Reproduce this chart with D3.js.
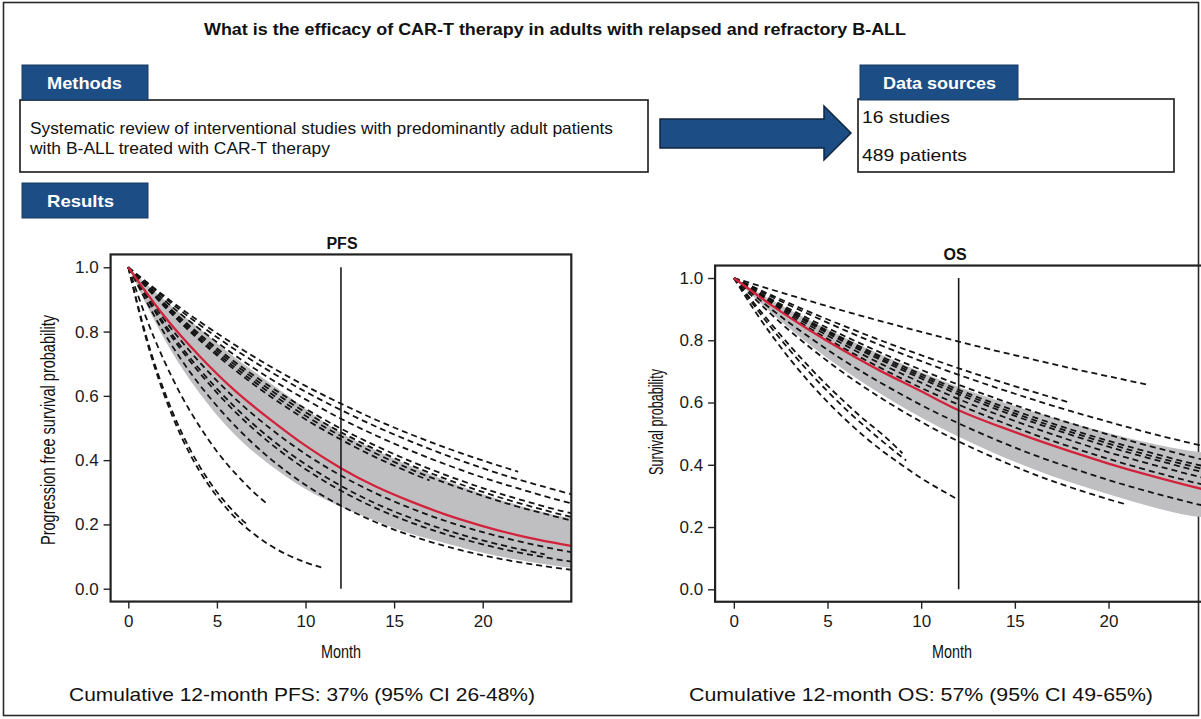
<!DOCTYPE html>
<html>
<head>
<meta charset="utf-8">
<script src="https://cdn.jsdelivr.net/npm/d3@7"></script>
<style>
  html, body { margin: 0; padding: 0; background: #fff; }
  svg { display: block; font-family: "Liberation Sans", Arial, Helvetica, sans-serif; }
</style>
</head>
<body>
<svg id="fig" width="1201" height="719"></svg>
<script>
// ---- text content ----
const titleText = "What is the efficacy of CAR-T therapy in adults with relapsed and refractory B-ALL";
const methodsLines = ["Systematic review of interventional studies with predominantly adult patients",
                      "with B-ALL treated with CAR-T therapy"];
const sourceLines = ["16 studies", "489 patients"];
const tabLabels = ["Methods", "Data sources", "Results"];
const panelTitles = ["PFS", "OS"];
const yAxisTitles = ["Progression free survival probability", "Survival probability"];
const xAxisTitle = "Month";
const captions = ["Cumulative 12-month PFS: 37% (95% CI 26-48%)",
                  "Cumulative 12-month OS: 57% (95% CI 49-65%)"];
const xTicks = [0, 5, 10, 15, 20];
const yTicks = [0, 0.2, 0.4, 0.6, 0.8, 1.0];
const landmarkMonth = 12;

// ---- pooled estimate and 95% band, by month ----
const bandMonths = [0, 2, 4, 6, 8, 10, 12, 14, 16, 18, 20, 22, 24, 25];
const pfsPooled  = [1, 0.85, 0.725, 0.617, 0.527, 0.445, 0.375, 0.317, 0.27, 0.229, 0.195, 0.166, 0.143, 0.133];
const pfsUpper   = [1, 0.90, 0.81, 0.72, 0.64, 0.56, 0.485, 0.43, 0.38, 0.335, 0.295, 0.26, 0.23, 0.22];
const pfsLower   = [1, 0.78, 0.61, 0.48, 0.385, 0.31, 0.255, 0.21, 0.17, 0.14, 0.112, 0.09, 0.072, 0.065];
const osPooled   = [1, 0.913, 0.834, 0.762, 0.696, 0.636, 0.575, 0.527, 0.483, 0.442, 0.404, 0.369, 0.337, 0.322];
const osUpper    = [1, 0.93, 0.866, 0.806, 0.75, 0.698, 0.65, 0.608, 0.57, 0.535, 0.502, 0.472, 0.448, 0.44];
const osLower    = [1, 0.888, 0.788, 0.70, 0.622, 0.552, 0.49, 0.435, 0.386, 0.343, 0.305, 0.27, 0.24, 0.232];

// ---- individual study curves: [month, probability] ----
const pfsStudies = [
  [[0,1],[2,0.912],[4,0.832],[6,0.759],[8,0.692],[10,0.631],[12,0.576],[14,0.525],[16,0.479],[18,0.437],[20,0.399],[22,0.364]],
  [[0,1],[2,0.907],[4,0.822],[6,0.745],[8,0.676],[10,0.613],[12,0.556],[14,0.504],[16,0.457],[18,0.414],[20,0.375],[22,0.340],[24,0.309],[25,0.294]],
  [[0,1],[2,0.899],[4,0.809],[6,0.727],[8,0.654],[10,0.589],[12,0.529],[14,0.476],[16,0.428],[18,0.385],[20,0.346],[22,0.312],[24,0.280],[25,0.266]],
  [[0,1],[2,0.890],[4,0.793],[6,0.706],[8,0.629],[10,0.560],[12,0.498],[14,0.444],[16,0.395],[18,0.352],[20,0.313],[22,0.279],[24,0.248],[25,0.235]],
  [[0,1],[2,0.887],[4,0.787],[6,0.698],[8,0.619],[10,0.549],[12,0.487],[14,0.432],[16,0.383],[18,0.340],[20,0.301],[22,0.267],[24,0.237],[25,0.223]],
  [[0,1],[2,0.883],[4,0.780],[6,0.689],[8,0.609],[10,0.538],[12,0.475],[14,0.420],[16,0.370],[18,0.327],[20,0.289],[22,0.255],[24,0.226],[25,0.212]],
  [[0,1],[2,0.880],[4,0.774],[6,0.681],[8,0.599],[10,0.527],[12,0.464],[14,0.408],[16,0.359],[17,0.337]],
  [[0,1],[2,0.840],[4,0.706],[6,0.593],[8,0.499],[10,0.419],[12,0.352],[14,0.296],[16,0.249],[18,0.209],[20,0.176],[22,0.148],[24,0.124],[25,0.114]],
  [[0,1],[2,0.827],[4,0.684],[6,0.566],[8,0.468],[10,0.387],[12,0.320],[14,0.264],[16,0.219],[18,0.181],[20,0.150],[22,0.124],[23.5,0.107]],
  [[0,1],[2,0.820],[4,0.673],[6,0.552],[8,0.453],[10,0.372],[12,0.305],[14,0.250],[16,0.205],[18,0.168],[20,0.138],[22,0.113],[24,0.093],[25,0.084]],
  [[0,1],[2,0.798],[4,0.636],[6,0.508],[8,0.405],[10,0.323],[12,0.258],[14,0.206],[16,0.164],[18,0.131],[20,0.104],[22,0.083],[24,0.066],[25,0.059]],
  [[0,1],[1,0.844],[2,0.712],[3,0.600],[4,0.507],[5,0.427],[6,0.361],[7,0.304],[7.9,0.261]],
  [[0,1],[1,0.787],[2,0.619],[3,0.487],[4,0.383],[5,0.301],[6,0.237],[6.7,0.200]],
  [[0,1],[1,0.779],[2,0.607],[3,0.472],[4,0.368],[5,0.287],[6,0.223],[7,0.174],[8,0.135],[9,0.105],[10,0.082],[10.9,0.066]]
];
const osStudies = [
  [[0,1],[2,0.963],[4,0.927],[6,0.892],[8,0.859],[10,0.827],[12,0.796],[14,0.766],[16,0.738],[18,0.710],[20,0.684],[22,0.658]],
  [[0,1],[2,0.945],[4,0.892],[6,0.843],[8,0.796],[10,0.752],[12,0.710],[14,0.671],[16,0.634],[17.8,0.602]],
  [[0,1],[2,0.940],[4,0.884],[6,0.830],[8,0.780],[10,0.733],[12,0.689],[14,0.648],[16,0.609],[18,0.572],[20,0.538],[22,0.505],[24,0.475],[25,0.461]],
  [[0,1],[2,0.932],[4,0.869],[6,0.811],[8,0.756],[10,0.705],[12,0.657],[14,0.613],[16,0.571],[18,0.533],[20,0.497],[22,0.463],[24,0.432],[25,0.417]],
  [[0,1],[2,0.929],[4,0.862],[6,0.801],[8,0.744],[10,0.691],[12,0.641],[14,0.595],[16,0.553],[18,0.513],[20,0.477],[22,0.443],[24,0.411],[25,0.397]],
  [[0,1],[2,0.927],[4,0.859],[6,0.796],[8,0.738],[10,0.684],[12,0.634],[14,0.587],[16,0.544],[18,0.505],[20,0.468],[22,0.433],[24,0.402],[25,0.387]],
  [[0,1],[2,0.925],[4,0.856],[6,0.791],[8,0.732],[10,0.677],[12,0.626],[14,0.579],[16,0.536],[18,0.496],[20,0.458],[22,0.424],[24,0.392],[25,0.377]],
  [[0,1],[2,0.921],[4,0.849],[6,0.782],[8,0.720],[10,0.664],[12,0.611],[14,0.563],[16,0.519],[18,0.478],[20,0.440],[22,0.406],[24,0.374],[25,0.359]],
  [[0,1],[2,0.917],[4,0.840],[6,0.770],[8,0.706],[10,0.647],[12,0.593],[14,0.544],[16,0.498],[18,0.457],[20,0.419],[22,0.384],[24,0.352],[25,0.337]],
  [[0,1],[2,0.900],[4,0.811],[6,0.730],[8,0.658],[10,0.592],[12,0.533],[14,0.480],[16,0.432],[18,0.390],[20,0.351],[22,0.316],[24,0.284],[25,0.270]],
  [[0,1],[2,0.883],[4,0.780],[6,0.689],[8,0.609],[10,0.538],[12,0.475],[14,0.420],[16,0.370],[18,0.327],[20,0.289],[21,0.272]],
  [[0,1],[1,0.925],[2,0.852],[3,0.782],[4,0.716],[5,0.654],[6,0.597],[7,0.543],[8,0.494],[9,0.437]],
  [[0,1],[1,0.918],[2,0.840],[3,0.767],[4,0.699],[5,0.636],[6,0.577],[7,0.523],[8,0.472],[9.2,0.414]],
  [[0,1],[1,0.905],[2,0.818],[3,0.739],[4,0.667],[5,0.602],[6,0.543],[7,0.489],[8,0.441],[9,0.398],[10,0.357],[11,0.321],[12,0.287]]
];

// ---- styling ----
const BLUE = "#1c4d84";
const RED = "#d2233c";
const BAND = "#bfbfc1";
const INK = "#1a1a1a";

const svg = d3.select("#fig");

// outer figure border
svg.append("rect").attr("x", 3.5).attr("y", 2.5).attr("width", 1195).attr("height", 713)
  .attr("fill", "none").attr("stroke", "#2a2a2a").attr("stroke-width", 1.6);

// header title
svg.append("text").attr("x", 555).attr("y", 35).attr("text-anchor", "middle")
  .attr("font-size", 16).attr("font-weight", "bold").attr("fill", "#111")
  .attr("textLength", 702).attr("lengthAdjust", "spacingAndGlyphs")
  .text(titleText);

// tabs
function tab(x, y, w, h, label, tx, len) {
  svg.append("rect").attr("x", x).attr("y", y).attr("width", w).attr("height", h)
    .attr("fill", BLUE).attr("stroke", "#163a63").attr("stroke-width", 1);
  svg.append("text").attr("x", tx).attr("y", y + h / 2 + 6)
    .attr("font-size", 17).attr("font-weight", "bold").attr("fill", "#fff")
    .attr("textLength", len).attr("lengthAdjust", "spacingAndGlyphs").text(label);
}

// methods box
svg.append("rect").attr("x", 20).attr("y", 100).attr("width", 628).attr("height", 72)
  .attr("fill", "#fff").attr("stroke", INK).attr("stroke-width", 1.6);
methodsLines.forEach((t, i) => {
  svg.append("text").attr("x", 30).attr("y", 134 + i * 20).attr("font-size", 16.5).attr("fill", "#111")
    .attr("textLength", i === 0 ? 583 : 300).attr("lengthAdjust", "spacingAndGlyphs").text(t);
});
// data sources box
svg.append("rect").attr("x", 858).attr("y", 99).attr("width", 316).attr("height", 73)
  .attr("fill", "#fff").attr("stroke", INK).attr("stroke-width", 1.6);
sourceLines.forEach((t, i) => {
  svg.append("text").attr("x", 862).attr("y", 123 + i * 38).attr("font-size", 17).attr("fill", "#111")
    .attr("textLength", i === 0 ? 88 : 105).attr("lengthAdjust", "spacingAndGlyphs").text(t);
});

tab(22, 65, 126, 35, tabLabels[0], 47, 75);
tab(860, 65, 158, 35, tabLabels[1], 883, 113);
tab(22, 183, 126, 35, tabLabels[2], 47, 67);

// arrow between boxes
svg.append("path")
  .attr("d", "M660,119 L824,119 L824,106 L851,133 L824,160 L824,148 L660,148 Z")
  .attr("fill", BLUE).attr("stroke", "#10263f").attr("stroke-width", 1.5);

// ---- survival panels ----
function panel(cfg) {
  const x = d3.scaleLinear().domain([-1, 25]).range(cfg.xr);
  const y = d3.scaleLinear().domain([0, 1]).range(cfg.yr);
  const left = x(-1), right = x(25), top = y(1.04), bottom = y(-0.04);
  const g = svg.append("g");
  const clipId = "clip-" + cfg.id;
  g.append("clipPath").attr("id", clipId).append("rect")
    .attr("x", left).attr("y", top).attr("width", right - left).attr("height", bottom - top);
  const plot = g.append("g").attr("clip-path", `url(#${clipId})`);

  const bandData = bandMonths.map((m, i) => ({ m, lo: cfg.lower[i], hi: cfg.upper[i] }));
  plot.append("path").datum(bandData)
    .attr("d", d3.area().x(d => x(d.m)).y0(d => y(d.lo)).y1(d => y(d.hi)).curve(d3.curveNatural))
    .attr("fill", BAND);

  const line = d3.line().x(d => x(d[0])).y(d => y(d[1])).curve(d3.curveNatural);
  plot.selectAll("path.study").data(cfg.studies).join("path").attr("class", "study")
    .attr("d", line).attr("fill", "none").attr("stroke", "#141414")
    .attr("stroke-width", 1.8).attr("stroke-dasharray", "6,4");

  plot.append("path").datum(bandMonths.map((m, i) => [m, cfg.pooled[i]]))
    .attr("d", line).attr("fill", "none").attr("stroke", RED).attr("stroke-width", 2.3);

  g.append("line").attr("x1", x(landmarkMonth)).attr("x2", x(landmarkMonth))
    .attr("y1", y(1)).attr("y2", y(0)).attr("stroke", INK).attr("stroke-width", 1.6);

  g.append("rect").attr("x", left).attr("y", top).attr("width", right - left).attr("height", bottom - top)
    .attr("fill", "none").attr("stroke", "#222").attr("stroke-width", 2.2);

  // axes
  const ya = g.append("g").attr("transform", `translate(${left},0)`)
    .call(d3.axisLeft(y).tickValues(yTicks).tickFormat(d3.format(".1f")).tickSize(7).tickPadding(5));
  const xa = g.append("g").attr("transform", `translate(0,${bottom})`)
    .call(d3.axisBottom(x).tickValues(xTicks).tickSize(7).tickPadding(6));
  [ya, xa].forEach(a => {
    a.select(".domain").remove();
    a.selectAll(".tick line").attr("stroke", "#222").attr("stroke-width", 1.4);
    a.selectAll(".tick text").attr("font-size", 17).attr("fill", "#1a1a1a")
      .attr("font-family", "'Liberation Sans', Arial, sans-serif");
  });

  // titles
  g.append("text").attr("x", cfg.titleX).attr("y", cfg.titleY).attr("text-anchor", "middle")
    .attr("font-size", 16).attr("font-weight", "bold").attr("fill", "#111").text(cfg.title);
  g.append("text").attr("transform", `translate(${cfg.ylabX},${cfg.ylabY}) rotate(-90)`)
    .attr("text-anchor", "middle").attr("font-size", 20).attr("fill", "#111")
    .attr("textLength", cfg.ylabLen).attr("lengthAdjust", "spacingAndGlyphs").text(cfg.ylab);
  g.append("text").attr("x", cfg.monthX).attr("y", 658).attr("text-anchor", "middle")
    .attr("font-size", 19).attr("fill", "#111")
    .attr("textLength", 40).attr("lengthAdjust", "spacingAndGlyphs").text(xAxisTitle);
  g.append("text").attr("x", cfg.capX).attr("y", 701).attr("text-anchor", "middle")
    .attr("font-size", 19).attr("fill", "#111")
    .attr("textLength", cfg.capLen).attr("lengthAdjust", "spacingAndGlyphs").text(cfg.caption);
}

panel({ id: "pfs", xr: [110.6, 571.3], yr: [588.7, 267.3],
  pooled: pfsPooled, upper: pfsUpper, lower: pfsLower, studies: pfsStudies,
  title: panelTitles[0], titleX: 342, titleY: 249,
  ylab: yAxisTitles[0], ylabX: 55, ylabY: 430, ylabLen: 230,
  monthX: 341, capX: 302, capLen: 466, caption: captions[0] });

panel({ id: "os", xr: [715.1, 1202.2], yr: [589.3, 278],
  pooled: osPooled, upper: osUpper, lower: osLower, studies: osStudies,
  title: panelTitles[1], titleX: 955, titleY: 260,
  ylab: yAxisTitles[1], ylabX: 663, ylabY: 422, ylabLen: 106,
  monthX: 952, capX: 921, capLen: 464, caption: captions[1] });
</script>
</body>
</html>
